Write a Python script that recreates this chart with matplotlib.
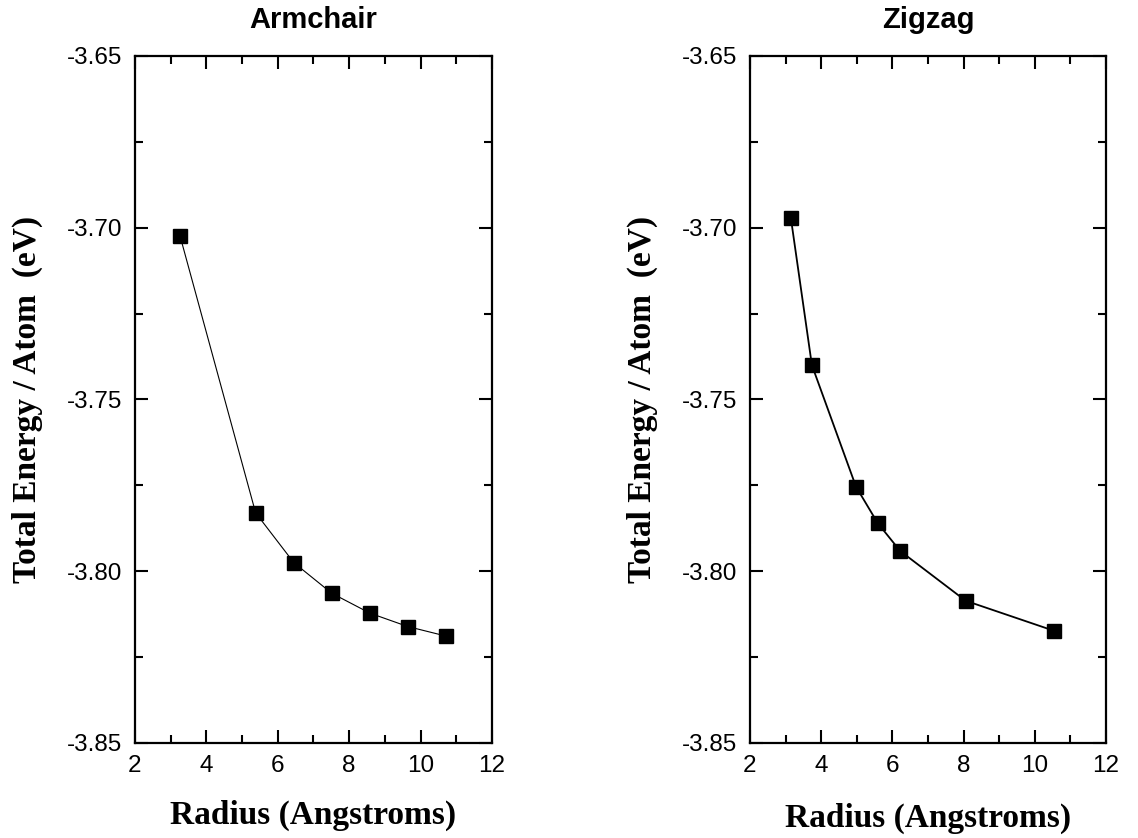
import matplotlib
matplotlib.use("Agg")
import matplotlib.pyplot as plt
from matplotlib.ticker import MultipleLocator, FormatStrFormatter

# Armchair nanotubes
arm_radius = [3.26, 5.38, 6.45, 7.51, 8.58, 9.64, 10.72]
arm_energy = [-3.7023, -3.7830, -3.7975, -3.8064, -3.8122, -3.8161, -3.8189]

# Zigzag nanotubes
zig_radius = [3.15, 3.74, 4.98, 5.59, 6.22, 8.06, 10.53]
zig_energy = [-3.6972, -3.7400, -3.7754, -3.7860, -3.7941, -3.8086, -3.8173]

titles = ["Armchair", "Zigzag"]
xlabel = "Radius (Angstroms)"
ylabel = "Total Energy / Atom  (eV)"

fig = plt.figure(figsize=(11.38, 8.38), dpi=100)
ax1 = fig.add_axes([0.1186, 0.1134, 0.3137, 0.8198])
ax2 = fig.add_axes([0.6590, 0.1134, 0.3128, 0.8198])

series = [(ax1, arm_radius, arm_energy, 0.8, 16), (ax2, zig_radius, zig_energy, 1.3, 18)]

for i, (ax, xs, ys, lw, xpad) in enumerate(series):
    ax.plot(xs, ys, color="black", linewidth=lw, marker="s", markersize=9.5,
            markerfacecolor="black", markeredgecolor="black")
    ax.set_xlim(2, 12)
    ax.set_ylim(-3.85, -3.65)
    ax.xaxis.set_major_locator(MultipleLocator(2))
    ax.xaxis.set_minor_locator(MultipleLocator(1))
    ax.yaxis.set_major_locator(MultipleLocator(0.05))
    ax.yaxis.set_minor_locator(MultipleLocator(0.025))
    ax.yaxis.set_major_formatter(FormatStrFormatter("%.2f"))
    ax.tick_params(which="both", direction="in", top=True, right=True, width=1.5)
    ax.tick_params(which="major", length=9.5, pad=9, labelsize=17.5)
    ax.tick_params(which="minor", length=5.5)
    for lab in ax.get_xticklabels() + ax.get_yticklabels():
        lab.set_fontfamily("Liberation Sans")
    for sp in ax.spines.values():
        sp.set_linewidth(1.6)
    ax.set_title(titles[i], fontsize=21, fontweight="bold", family="Liberation Sans", pad=20)
    ax.set_xlabel(xlabel, fontsize=24, fontweight="bold", family="Liberation Serif", labelpad=xpad)
    ax.set_ylabel(ylabel, fontsize=24, fontweight="bold", family="Liberation Serif", labelpad=17)

fig.savefig("out.png", dpi=100)
